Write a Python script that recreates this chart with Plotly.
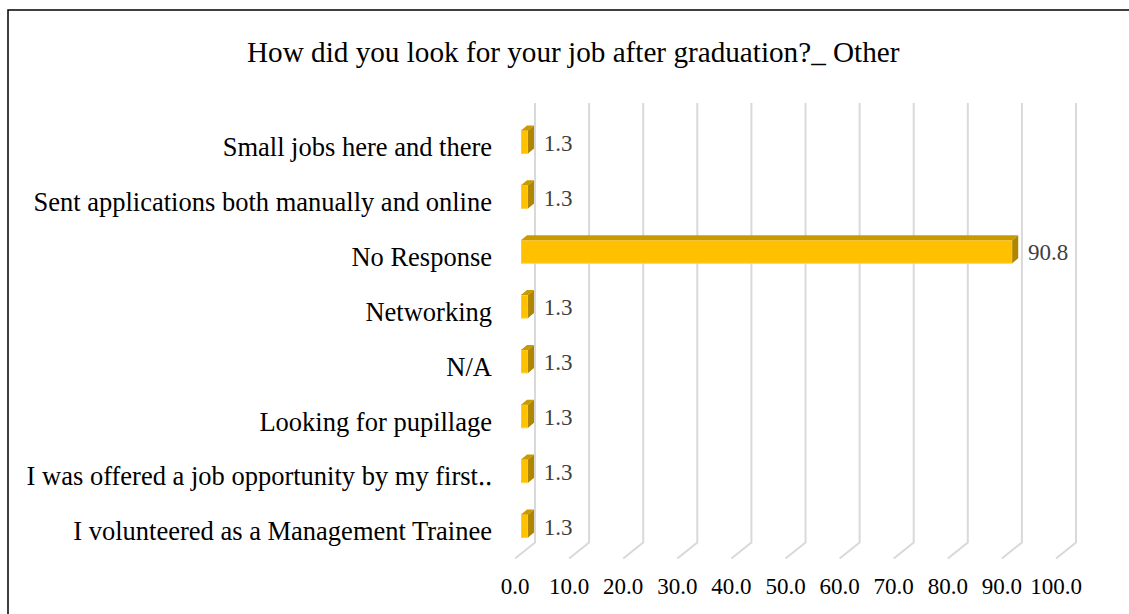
import plotly.graph_objects as go

# ---------------- data ----------------
categories = [
    "I volunteered as a Management Trainee",
    "I was offered a job opportunity by my first\u2025",
    "Looking for pupillage",
    "N/A",
    "Networking",
    "No Response",
    "Sent applications both manually and online",
    "Small jobs here and there",
]
values = [1.3, 1.3, 1.3, 1.3, 1.3, 90.8, 1.3, 1.3]
tick_values = [0, 10, 20, 30, 40, 50, 60, 70, 80, 90, 100]
tick_labels = ["%.1f" % t for t in tick_values]
title_text = "How did you look for your job after graduation?_ Other"

# ---------------- geometry ----------------
W, H = 1129, 614
PX_PER_UNIT = 5.41          # horizontal pixels per value unit
CAT_TOP, CAT_BOT = 147.0, 531.0
CAT_STEP = (CAT_BOT - CAT_TOP) / (len(categories) - 1)
Y_LO, Y_HI = -0.6, 7.85

def py(idx):            # pixel y of category index
    return CAT_BOT - CAT_STEP * idx

def paper_y(pix):
    return (H - pix) / H

FRONT_X0 = 515.0        # front floor 0
BAR_X0 = 521.0          # bar plane 0
BACK_SHIFT_X = 20.0     # back plane shift (px)
BACK_SHIFT_Y = 16.0
X_RIGHT = 1110.0

front_range = [0, (X_RIGHT - FRONT_X0) / PX_PER_UNIT]
bar_range = [0, (X_RIGHT - BAR_X0) / PX_PER_UNIT]

y_dom = [paper_y(py(Y_LO)), paper_y(py(Y_HI))]
bar_dy_px = 5.0
y2_dom = [y_dom[0] + bar_dy_px / H, y_dom[1] + bar_dy_px / H]

# gridlines (back wall + floor diagonals) on front axes
back_dx = BACK_SHIFT_X / PX_PER_UNIT
floor_front_y = -0.5
floor_back_y = -0.5 + BACK_SHIFT_Y / CAT_STEP
grid_top = (CAT_BOT - 103.0) / CAT_STEP
gx, gy = [], []
for t in tick_values:
    gx += [t, t + back_dx, t + back_dx, None]
    gy += [floor_front_y, floor_back_y, grid_top, None]

# 3D bar faces (on bar axes)
bw = 0.42
ddx = 6.0 / PX_PER_UNIT
ddy = 5.0 / CAT_STEP
top_x, top_y, side_x, side_y = [], [], [], []
for i, v in enumerate(values):
    t = i + bw / 2
    b = i - bw / 2
    top_x += [0, v, v + ddx, ddx, 0, None]
    top_y += [t, t, t + ddy, t + ddy, t, None]
    side_x += [v, v, v + ddx, v + ddx, v, None]
    side_y += [b, t, t + ddy, b + ddy, b, None]

FONT = "Liberation Serif, Times New Roman, serif"

fig = go.Figure()

fig.add_trace(go.Scatter(
    x=gx, y=gy, mode="lines", xaxis="x", yaxis="y",
    line=dict(color="#D9D9D9", width=2), hoverinfo="skip", showlegend=False))

fig.add_trace(go.Bar(
    x=values, y=list(range(len(values))), orientation="h", width=bw,
    xaxis="x2", yaxis="y2",
    marker=dict(color="#FFC000", line=dict(color="#FFD24D", width=1)),
    showlegend=False, hoverinfo="skip"))

fig.add_trace(go.Scatter(
    x=top_x, y=top_y, mode="lines", fill="toself", fillcolor="#C99A00",
    line=dict(width=0, color="#C99A00"), xaxis="x2", yaxis="y2",
    hoverinfo="skip", showlegend=False))
fig.add_trace(go.Scatter(
    x=side_x, y=side_y, mode="lines", fill="toself", fillcolor="#B08600",
    line=dict(width=0, color="#B08600"), xaxis="x2", yaxis="y2",
    hoverinfo="skip", showlegend=False))

label_dy = 3.0 / CAT_STEP
fig.add_trace(go.Scatter(
    x=[v + ddx for v in values], y=[i - label_dy for i in range(len(values))],
    mode="markers+text", marker=dict(size=14, color="rgba(0,0,0,0)"),
    text=["%.1f" % v for v in values], textposition="middle right",
    textfont=dict(family=FONT, size=23, color="#404040"),
    xaxis="x2", yaxis="y2", hoverinfo="skip", showlegend=False))

fig.update_layout(
    width=W, height=H,
    margin=dict(l=0, r=0, t=0, b=0, autoexpand=False),
    paper_bgcolor="white", plot_bgcolor="rgba(0,0,0,0)",
    font=dict(family=FONT, size=20, color="black"),
    hovermode=False,
    xaxis=dict(domain=[FRONT_X0 / W, X_RIGHT / W], range=front_range,
               anchor="y", tickvals=tick_values, ticktext=tick_labels,
               showgrid=False, zeroline=False, showline=False,
               ticks="", ticklabelstandoff=6, automargin=False,
               fixedrange=True,
               tickfont=dict(family=FONT, size=23, color="black")),
    yaxis=dict(domain=y_dom, range=[Y_LO, Y_HI], anchor="x",
               tickvals=list(range(len(categories))), ticktext=categories,
               showgrid=False, zeroline=False, showline=False,
               ticks="", ticklabelstandoff=22, automargin=False,
               fixedrange=True,
               tickfont=dict(family=FONT, size=26.5, color="black")),
    xaxis2=dict(domain=[BAR_X0 / W, X_RIGHT / W], range=bar_range,
                anchor="y2", visible=False, automargin=False, fixedrange=True),
    yaxis2=dict(domain=y2_dom, range=[Y_LO, Y_HI], anchor="x2",
                visible=False, automargin=False, fixedrange=True),
    annotations=[dict(text=title_text, x=573.5 / W, y=paper_y(52),
                      xref="paper", yref="paper", xanchor="center",
                      yanchor="middle", showarrow=False,
                      font=dict(family=FONT, size=29.2, color="black"))],
    shapes=[dict(type="path", xref="paper", yref="paper",
                 path="M %f,0 L %f,%f L 1,%f" % (8 / W, 8 / W, paper_y(10), paper_y(10)),
                 line=dict(color="black", width=1.5))],
)

fig.write_html("out.html",
               config={"displayModeBar": False},
               post_script="document.body.style.margin='0';document.body.style.overflow='hidden';")
